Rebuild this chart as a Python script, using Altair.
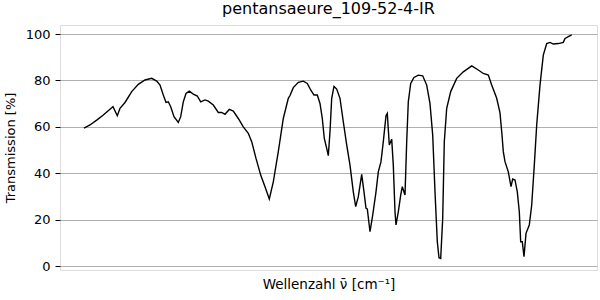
import altair as alt
import pandas as pd

# relative position along the (unlabelled) wavenumber axis
position = [
    84, 90, 96.7, 103, 111.7, 113, 117.3, 120, 125, 131.7,
    138.3, 145, 151.7, 156.7, 160, 163.3, 166, 168.3, 170.7, 174,
    178.3, 180.7, 183.3, 186, 189.3, 193.3, 197.3, 200.7, 205, 208.3,
    213.3, 218.3, 221.7, 225, 229.3, 233.3, 238.3, 243.3, 248.3, 251.7,
    256, 260.7, 265, 269.3, 273.3, 278.3, 283.3, 288.3, 290, 293.3,
    298.3, 303.3, 307.3, 310.7, 314, 317.3, 320, 322.3, 324.3, 326.7,
    328.3, 330, 331.7, 334, 336.7, 340, 343.3, 346.7, 350, 353.3,
    355.7, 358.3, 361.7, 364, 366, 367.3, 370, 372.7, 376, 378.3,
    381, 383.3, 386, 387.3, 389.3, 391.7, 393.3, 395, 396, 398.3,
    400.7, 402.3, 405, 406.7, 408.3, 410.7, 414, 418.3, 422.7, 426.7,
    430, 432.7, 435, 437.3, 439, 440.7, 442.7, 444.3, 446.7, 450.7,
    456.7, 463.3, 471.7, 478.3, 483.3, 488.3, 491.7, 496.7, 500, 502,
    503.3, 505, 508.3, 511, 512.7, 515, 517.3, 519.3, 520.7, 522.3,
    524, 526, 529.3, 531.7, 534.3, 536.7, 540, 543.3, 546.7, 550,
    553.3, 558.3, 563.3, 565, 568.3, 571.7,
]
transmission = [
    59.5, 60.8, 62.9, 65, 68.2, 68.7, 64.8, 68, 70.5, 75.2,
    78.3, 80.2, 80.9, 79.7, 78, 73.7, 70.5, 70.8, 68.7, 64.4,
    61.9, 64.4, 70.8, 74.4, 75.4, 74.1, 73.3, 70.8, 71.6, 71.1,
    69.4, 66.2, 66.2, 65.4, 67.5, 66.8, 63.6, 60, 57.2, 53.6,
    46.4, 39.2, 34.2, 28.9, 36.3, 49.3, 63.6, 72.3, 73.5, 76.9,
    79.2, 79.7, 78.7, 75.9, 73.7, 73.7, 70.1, 63.6, 55, 50.7,
    47.6, 57.9, 72.3, 77.4, 76.3, 72.3, 62.2, 52.2, 43.5, 32,
    25.6, 29.9, 39.5, 32, 24.9, 24.6, 14.8, 22, 32, 40.6,
    45, 53.6, 64.8, 65.8, 52.2, 54.7, 43.5, 23.4, 17.7, 23.4,
    30.6, 34.2, 30.6, 53.6, 70.8, 78.7, 81.3, 82.3, 82, 78,
    70, 56.5, 32, 10.5, 3.6, 3.3, 20.5, 53.6, 68, 75.2,
    80.9, 83.7, 86.3, 84.5, 83, 82.3, 78, 72.3, 66, 56.5,
    49.3, 45, 40.6, 34.2, 37.5, 37.1, 32, 23.4, 10.5, 10.5,
    4, 14.1, 17.7, 26.3, 43.5, 60.8, 78, 90.9, 95.9, 96.4,
    95.7, 95.9, 96.4, 98.1, 98.9, 99.6,
]
y_ticks = [0, 20, 40, 60, 80, 100]

df = pd.DataFrame({"pos": position, "T": transmission})

chart = alt.Chart(df).mark_line(color="black", strokeWidth=1.4).encode(
    x=alt.X("pos:Q",
            scale=alt.Scale(domain=[60, 597], nice=False, zero=False),
            axis=alt.Axis(title="Wellenzahl ν̄ [cm⁻¹]", labels=False, ticks=False, grid=False,
                          domain=False, titleFontSize=13.5, titleFont="DejaVu Sans",
                          titleFontWeight="normal", titleColor="black", titlePadding=7)),
    y=alt.Y("T:Q",
            scale=alt.Scale(domain=[-1.7, 103.9], nice=False, zero=False),
            axis=alt.Axis(title="Transmission [%]", values=y_ticks, grid=True,
                          gridColor="#b0b0b0", gridWidth=1.1, tickColor="black", tickSize=5,
                          labelPadding=5, labelFontSize=13, labelFont="DejaVu Sans",
                          labelColor="black", titleFontSize=13, titleFont="DejaVu Sans",
                          titleFontWeight="normal", titleColor="black", titlePadding=8,
                          domain=False)),
    order="pos:Q",
).properties(
    width=537,
    height=245,
    title=alt.TitleParams("pentansaeure_109-52-4-IR", fontSize=16, font="DejaVu Sans",
                          fontWeight="normal", color="black", anchor="middle", offset=8),
    autosize=alt.AutoSizeParams(type="none"),
    padding={"left": 60, "top": 25, "right": 3, "bottom": 30},
).configure_view(stroke="black", strokeWidth=1.2).configure(background="white")

chart.save("out.html", embed_options={"renderer": "svg", "actions": False})
